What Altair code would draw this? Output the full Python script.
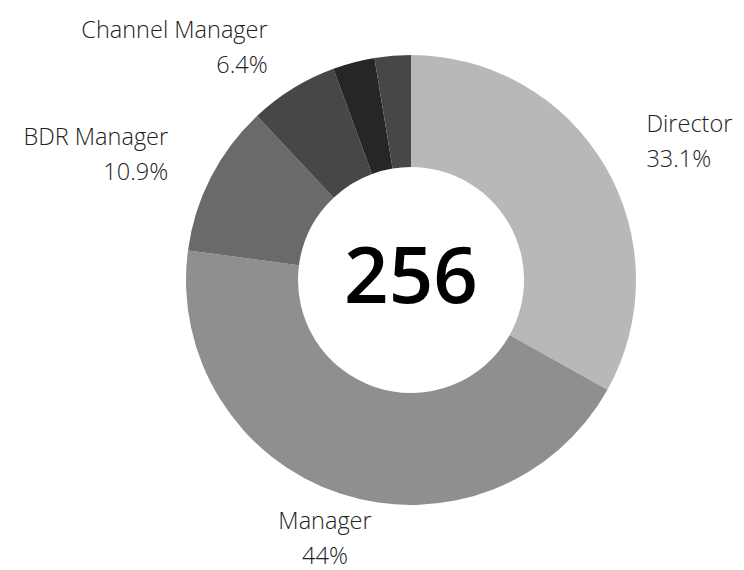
import altair as alt
import pandas as pd

# ---- data ----
roles = ["Director", "Manager", "BDR Manager", "Channel Manager", "Other A", "Other B"]
percents = [33.1, 44.0, 10.9, 6.4, 3.0, 2.6]
colors = ["#b8b8b8", "#8f8f8f", "#6a6a6a", "#474747", "#262626", "#474747"]
total_count = [256]

labels = [f"{r}\n{p:g}%" if p >= 5 else "" for r, p in zip(roles, percents)]

df = pd.DataFrame({
    "role": roles,
    "pct": percents,
    "idx": list(range(len(roles))),
    "label": labels,
})
tot = pd.DataFrame({"total": total_count})

OUTER = 225
INNER = 113
SIDE_LABEL_R = 273
BOTTOM_LABEL_R = 273

base = alt.Chart(df)

arcs = base.mark_arc(outerRadius=OUTER, innerRadius=INNER).encode(
    theta=alt.Theta("pct:Q", stack=True),
    order=alt.Order("idx:Q", sort="ascending"),
    color=alt.Color("role:N", scale=alt.Scale(domain=roles, range=colors), legend=None),
)

lab = base.transform_window(
    cum="sum(pct)", sort=[alt.SortField("idx", order="ascending")], frame=[None, 0]
).transform_joinaggregate(
    tot="sum(pct)"
).transform_calculate(
    mid="2*PI*(datum.cum - datum.pct/2)/datum.tot",
).transform_calculate(
    s="sin(datum.mid)"
).transform_filter("datum.pct >= 5")

def label_layer(filt, align, radius):
    return lab.transform_filter(filt).mark_text(
        font="Open Sans", fontWeight=300, fontSize=23.5, lineHeight=35,
        lineBreak="\n", align=align, baseline="middle", dy=-17,
        color="#222222",
    ).encode(
        theta=alt.Theta("mid:Q", scale=None, stack=False),
        radius=alt.value(radius),
        text="label:N",
    )

right = label_layer("datum.s > 0.4", "left", SIDE_LABEL_R)
left = label_layer("datum.s < -0.4", "right", SIDE_LABEL_R)
center = label_layer("abs(datum.s) <= 0.4", "center", BOTTOM_LABEL_R)

num = alt.Chart(tot).mark_text(
    font="Open Sans", fontSize=78, fontWeight=600, color="#000000",
    align="center", baseline="middle",
).encode(text="total:Q")

chart = alt.layer(arcs, right, left, center, num).properties(
    width=650, height=544,
    padding={"left": 78, "top": 0, "right": 0, "bottom": 18},
    autosize="none",
).configure_view(stroke=None)

chart.save("out.html", embed_options={"renderer": "svg", "actions": False})
